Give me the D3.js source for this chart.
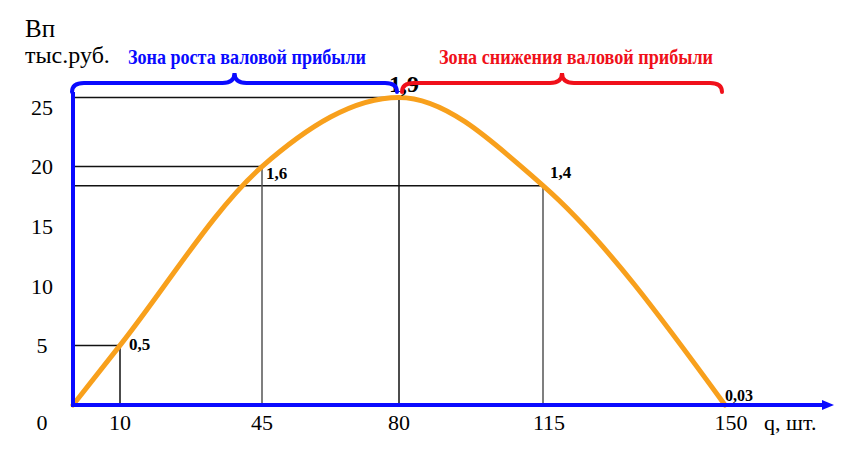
<!DOCTYPE html>
<html>
<head>
<meta charset="utf-8">
<script src="https://cdn.jsdelivr.net/npm/d3@7"></script>
<style>
  body { margin: 0; background: #fff; }
  text { font-family: "Liberation Serif", "Times New Roman", serif; }
</style>
</head>
<body>
<svg id="chart" width="855" height="462"></svg>
<script>
// data
var qValues = [0, 10, 45, 80, 115, 150];
var profitValues = [0, 5, 20, 25.8, 18.4, 0];
var pointLabels = ['', '0,5', '1,6', '1,9', '1,4', '0,03'];
var yTicks = [5, 10, 15, 20, 25];
var zones = ['Зона роста валовой прибыли', 'Зона снижения валовой прибыли'];

var svg = d3.select('svg#chart');

// the x axis of the original is schematic, not to scale
var x = d3.scaleLinear()
  .domain(qValues)
  .range([73, 120, 262, 399, 543, 725]);

var y = d3.scaleLinear()
  .domain([0, 25])
  .range([405, 107]);

var blue = '#0a0aff';
var orange = '#f8a01c';

var pts = qValues.map(function(q, i) {
  return {q: q, v: profitValues[i], label: pointLabels[i]};
});

// guide lines to the axes
var guides = pts.filter(function(d) { return d.q > 0 && d.v > 0; });
svg.selectAll('line.hguide')
  .data(guides)
  .join('line')
  .attr('class', 'hguide')
  .attr('x1', x(0))
  .attr('x2', function(d) { return x(d.q); })
  .attr('y1', function(d) { return y(d.v); })
  .attr('y2', function(d) { return y(d.v); })
  .attr('stroke', '#111')
  .attr('stroke-width', 1.5);

svg.selectAll('line.vguide')
  .data(guides)
  .join('line')
  .attr('class', 'vguide')
  .attr('x1', function(d) { return x(d.q); })
  .attr('x2', function(d) { return x(d.q); })
  .attr('y1', function(d) { return y(d.v); })
  .attr('y2', y(0))
  .attr('stroke', function(d, i) { return i % 2 ? '#555' : '#111'; })
  .attr('stroke-width', 1.5);

// the profit curve
var line = d3.line()
  .x(function(d) { return x(d.q); })
  .y(function(d) { return y(d.v); })
  .curve(d3.curveMonotoneX);

svg.append('path')
  .datum(pts)
  .attr('d', line)
  .attr('fill', 'none')
  .attr('stroke', orange)
  .attr('stroke-width', 5)
  .attr('stroke-linecap', 'round');

// axes
svg.append('line')
  .attr('x1', x(0) - 1).attr('x2', 826)
  .attr('y1', y(0)).attr('y2', y(0))
  .attr('stroke', blue).attr('stroke-width', 4);
svg.append('path')
  .attr('d', 'M834,' + y(0) + 'L822,' + (y(0) - 5) + 'L822,' + (y(0) + 5) + 'Z')
  .attr('fill', blue);

svg.append('line')
  .attr('x1', x(0)).attr('x2', x(0))
  .attr('y1', y(0) + 2).attr('y2', 92)
  .attr('stroke', blue).attr('stroke-width', 4);

// tick labels
svg.selectAll('text.ytick')
  .data(yTicks)
  .join('text')
  .attr('class', 'ytick')
  .attr('x', 42)
  .attr('y', function(d) { return y(d); })
  .attr('dy', '0.35em')
  .attr('text-anchor', 'middle')
  .attr('font-size', 22)
  .text(function(d) { return d; });

svg.append('text')
  .attr('x', 42).attr('y', 422).attr('dy', '0.35em')
  .attr('text-anchor', 'middle').attr('font-size', 22)
  .text('0');

svg.selectAll('text.xtick')
  .data(qValues.slice(1))
  .join('text')
  .attr('class', 'xtick')
  .attr('x', function(d) { return x(d) + (d > 80 ? 6 : 0); })
  .attr('y', 422)
  .attr('dy', '0.35em')
  .attr('text-anchor', 'middle')
  .attr('font-size', 22)
  .text(function(d) { return d; });

svg.append('text')
  .attr('x', 764).attr('y', 422).attr('dy', '0.35em')
  .attr('font-size', 22)
  .text('q, шт.');

// axis title
svg.append('text').attr('x', 25).attr('y', 37).attr('font-size', 25).text('Вп');
svg.append('text').attr('x', 25).attr('y', 63).attr('font-size', 24).text('тыс.руб.');

// point labels
var labelPos = {
  '0,5': [129, 350, 17],
  '1,6': [266, 179, 17],
  '1,9': [389, 92, 24],
  '1,4': [550, 178, 17],
  '0,03': [725, 401, 16]
};
svg.selectAll('text.plabel')
  .data(pts.filter(function(d) { return d.label; }))
  .join('text')
  .attr('class', 'plabel')
  .attr('x', function(d) { return labelPos[d.label][0]; })
  .attr('y', function(d) { return labelPos[d.label][1]; })
  .attr('font-size', function(d) { return labelPos[d.label][2]; })
  .attr('font-weight', 'bold')
  .text(function(d) { return d.label; });

// braces over the two zones
function brace(x1, x2, y0, yEnd, yTip) {
  var xm = (x1 + x2) / 2, r = 12;
  var p = d3.path();
  p.moveTo(x1, yEnd);
  p.quadraticCurveTo(x1, y0, x1 + r, y0);
  p.lineTo(xm - r, y0);
  p.quadraticCurveTo(xm, y0, xm, yTip);
  p.quadraticCurveTo(xm, y0, xm + r, y0);
  p.lineTo(x2 - r, y0);
  p.quadraticCurveTo(x2, y0, x2, yEnd);
  return p.toString();
}

var zoneData = [
  {name: zones[0], from: 0, to: 80, color: blue, tx: 128, tw: 238},
  {name: zones[1], from: 80, to: 150, color: '#f0101a', tx: 439, tw: 274}
];

svg.selectAll('path.brace')
  .data(zoneData)
  .join('path')
  .attr('class', 'brace')
  .attr('d', function(d, i) {
    var x1 = x(d.from) + (i ? 3 : -1);
    var x2 = i ? x(d.to) - 3 : x(d.to) - 2;
    return brace(x1, x2, 83, 92, 73);
  })
  .attr('fill', 'none')
  .attr('stroke', function(d) { return d.color; })
  .attr('stroke-width', 4)
  .attr('stroke-linecap', 'round');

svg.selectAll('text.zone')
  .data(zoneData)
  .join('text')
  .attr('class', 'zone')
  .attr('x', function(d) { return d.tx; })
  .attr('y', 64)
  .attr('font-size', 21)
  .attr('font-weight', 'bold')
  .attr('textLength', function(d) { return d.tw; })
  .attr('lengthAdjust', 'spacingAndGlyphs')
  .attr('fill', function(d) { return d.color; })
  .text(function(d) { return d.name; });
</script>
</body>
</html>
